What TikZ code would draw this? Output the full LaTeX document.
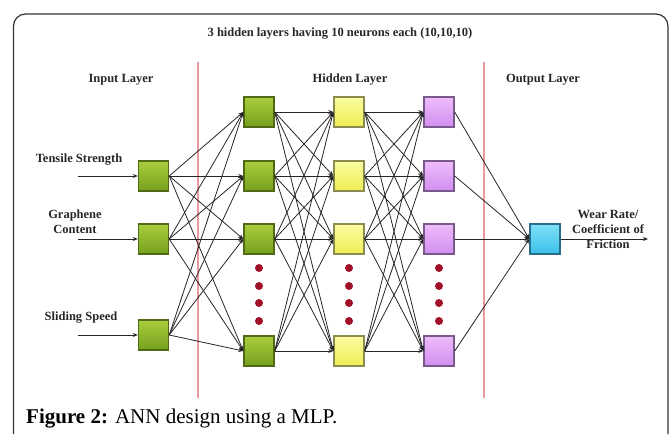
\documentclass[tikz,border=0pt]{standalone}
\usepackage{fontspec}
\setmainfont{Liberation Serif}
\usepackage{tikz}
\usetikzlibrary{arrows.meta}
\definecolor{framegray}{HTML}{333333}
\definecolor{sepred}{HTML}{E89A9A}
\definecolor{dotred}{HTML}{A01028}
\tikzstyle{neuron}=[draw, line width=1.4pt, minimum size=30pt, inner sep=0pt]
\tikzstyle{gneuron}=[neuron, draw={rgb,255:red,80;green,105;blue,20}, top color={rgb,255:red,168;green,206;blue,62}, bottom color={rgb,255:red,118;green,160;blue,30}]
\tikzstyle{yneuron}=[neuron, draw={rgb,255:red,140;green,140;blue,80}, top color={rgb,255:red,252;green,252;blue,160}, bottom color={rgb,255:red,238;green,238;blue,85}]
\tikzstyle{pneuron}=[neuron, draw={rgb,255:red,122;green,90;blue,140}, top color={rgb,255:red,238;green,188;blue,250}, bottom color={rgb,255:red,210;green,142;blue,240}]
\tikzstyle{oneuron}=[neuron, draw={rgb,255:red,40;green,110;blue,138}, top color={rgb,255:red,126;green,224;blue,245}, bottom color={rgb,255:red,60;green,192;blue,234}]
\tikzstyle{vdot}=[circle, fill=dotred, inner sep=0pt, minimum size=8pt]
\tikzstyle{link}=[-{Stealth[length=5pt,width=4pt]}, draw=black!85, line width=0.8pt]
\tikzstyle{lbl}=[font=\fontsize{12.5}{15}\selectfont\bfseries, text=black!85, inner sep=0pt]

\begin{document}
\begin{tikzpicture}[x=1pt, y=-1pt]
        \useasboundingbox (0,0) rectangle (671,434);
        % frame and layer separators
        \draw[framegray, line width=1.2pt, rounded corners=12pt] (13.5,434) -- (13.5,14) -- (668,14) -- (668,434);
        \draw[sepred, line width=1.8pt] (198,62) -- (198,398);
        \draw[sepred, line width=1.8pt] (484,62) -- (484,398);
        \node[lbl] (title) at (340,34) {3 hidden layers having 10 neurons each (10,10,10)};
        \node[lbl] (linput) at (121,80) {Input Layer};
        \node[lbl] (lhidden) at (350,80) {Hidden Layer};
        \node[lbl] (loutput) at (543,80) {Output Layer};
        % input layer
        \node[gneuron] (in1) at (153.5,176) {};
        \node[gneuron] (in2) at (153.5,239) {};
        \node[gneuron] (in3) at (153.5,335) {};
        \node[lbl] (t1) at (79,160) {Tensile Strength};
        \node[lbl, align=center] (t2) at (75,222) {Graphene\\Content};
        \node[lbl] (t3) at (81,318) {Sliding Speed};
        \coordinate (s1) at (78,176);
        \coordinate (s2) at (78,239);
        \coordinate (s3) at (78,335);
        \foreach \i in {1,2,3} \draw[link] (s\i) -- (in\i.west);
        % hidden layers
        \foreach \r/\y in {1/112,2/176,3/239,4/351} {
            \node[gneuron] (h1\r) at (259,\y) {};
            \node[yneuron] (h2\r) at (349,\y) {};
            \node[pneuron] (h3\r) at (439,\y) {};
        }
        \foreach \l/\x in {1/259,2/349,3/439}
            \foreach \k/\y in {1/268,2/286,3/303,4/321}
                \node[vdot] (d\l\k) at (\x,\y) {};
        % output layer
        \node[oneuron] (out) at (545,239) {};
        \node[lbl, align=center] (tout) at (608,229) {Wear Rate/\\Coefficient of\\Friction};
        \coordinate (o) at (648,239);
        % connections
        \foreach \i in {1,2,3}
            \foreach \j in {1,...,4}
                \draw[link] (in\i.east) -- (h1\j.west);
        \foreach \i in {1,...,4}
            \foreach \j in {1,...,4} {
                \draw[link] (h1\i.east) -- (h2\j.west);
                \draw[link] (h2\i.east) -- (h3\j.west);
            }
        \foreach \i in {1,...,4} \draw[link] (h3\i.east) -- (out.west);
        \draw[link] (out.east) -- (o);
        \node[anchor=base west, inner sep=0pt] (cap) at (26,423) {\fontsize{21}{24}\selectfont\textbf{Figure 2:} ANN design using a MLP.};
\end{tikzpicture}
\end{document}
